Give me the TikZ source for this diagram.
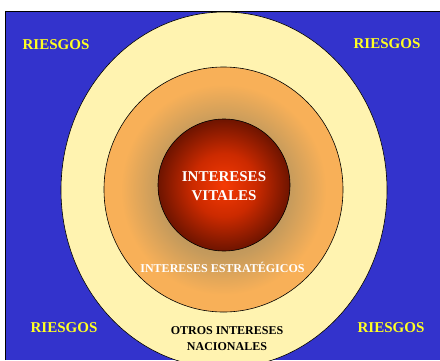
\documentclass[tikz,border=0pt]{standalone}
\usepackage{fontspec}
\setmainfont{Liberation Serif}
\definecolor{bgblue}{HTML}{3333CC}
\definecolor{paleyellow}{HTML}{FFF3B0}
\definecolor{orangefill}{HTML}{F8B058}
\definecolor{orangeshade}{HTML}{C49A5C}
\definecolor{orangedark}{HTML}{A88048}
\definecolor{vitalcenter}{HTML}{F53A04}
\definecolor{vitalmid}{HTML}{CC2A00}
\definecolor{vitaledge}{HTML}{6E1400}
\definecolor{riskyellow}{HTML}{FFFF22}
\pgfdeclareradialshading{vitalshade}{\pgfpoint{0bp}{0bp}}{color(0bp)=(vitalcenter); color(12bp)=(vitalmid); color(25bp)=(vitaledge); color(50bp)=(vitaledge)}
\pgfdeclareradialshading{stratshade}{\pgfpoint{0bp}{0bp}}{color(0bp)=(orangedark); color(13.5bp)=(orangeshade); color(21.5bp)=(orangefill); color(50bp)=(orangefill)}
\tikzset{
  risk/.style={text=riskyellow, font=\bfseries\fontsize{15}{18}\selectfont, inner sep=0pt},
  whitelabel/.style={text=white, font=\bfseries\fontsize{15}{19}\selectfont, align=center, inner sep=0pt},
  smallwhite/.style={text=white, font=\bfseries\fontsize{12}{14}\selectfont, inner sep=0pt},
  blacklabel/.style={text=black, font=\bfseries\fontsize{12}{16}\selectfont, align=center, inner sep=0pt},
  ring/.style={draw=black, line width=0.6pt}
}
\begin{document}
\begin{tikzpicture}[x=1pt,y=-1pt]
\useasboundingbox (0,0) rectangle (440,360);
\clip (0,0) rectangle (440,360);
\fill[white] (0,0) rectangle (440,360);
\fill[bgblue] (5,11) rectangle (440,360);
\draw[black, line width=0.8pt] (5,360) -- (5,11) -- (440,11);
% outer ellipse
\path[ring, fill=paleyellow] (224,190) ellipse [x radius=163, y radius=178];
% middle ellipse
\path[ring, shading=stratshade] (223.5,189.5) ellipse [x radius=119.5, y radius=122.5];
% inner circle
\path[ring, shading=vitalshade] (224,185) circle [radius=66];
% labels
\node[risk] (r1) at (56,45) {RIESGOS};
\node[risk] (r2) at (387,44) {RIESGOS};
\node[risk] (r3) at (64,328) {RIESGOS};
\node[risk] (r4) at (391,328) {RIESGOS};
\node[whitelabel] (vital) at (224,186) {INTERESES\\VITALES};
\node[smallwhite] (strat) at (222.5,267) {INTERESES ESTRATÉGICOS};
\node[blacklabel] (otros) at (227,339) {OTROS INTERESES\\NACIONALES};
\end{tikzpicture}
\end{document}
